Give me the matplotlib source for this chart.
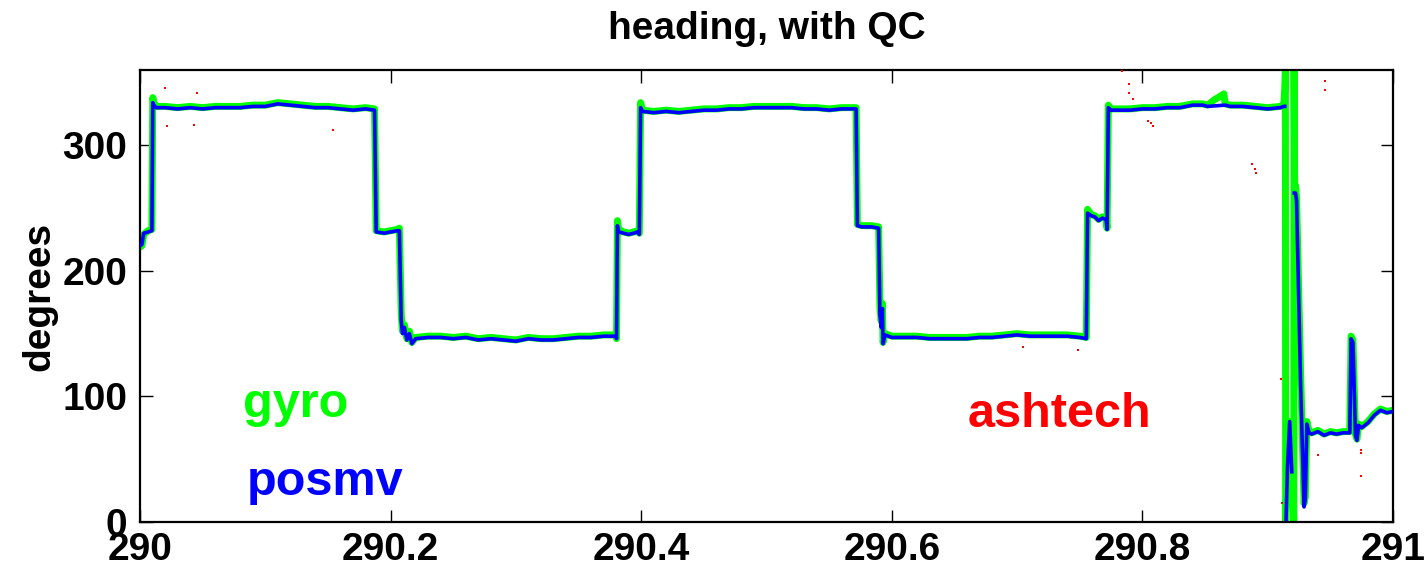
import numpy as np
import matplotlib
matplotlib.use("Agg")
import matplotlib.pyplot as plt

plt.rcParams['font.family'] = ['Liberation Sans', 'DejaVu Sans']
plt.rcParams['font.weight'] = 'bold'

# gyro heading (yearday, degrees) - wraps 360 -> 0 near 290.915
gyro_t = [290.000, 290.0015, 290.003, 290.0065, 290.0095, 290.0102, 290.011, 290.013,
          290.02, 290.03, 290.04, 290.05, 290.06, 290.07, 290.08, 290.09, 290.10, 290.11,
          290.12, 290.13, 290.14, 290.15, 290.16, 290.17, 290.18, 290.1872,
          290.1885, 290.195, 290.200, 290.2055, 290.2070, 290.2085, 290.2095, 290.211,
          290.213, 290.215, 290.217, 290.220,
          290.23, 290.24, 290.25, 290.26, 290.27, 290.28, 290.29, 290.30, 290.31, 290.32,
          290.33, 290.34, 290.35, 290.36, 290.37, 290.38, 290.3803,
          290.3810, 290.382, 290.386, 290.390, 290.394, 290.397, 290.3985, 290.3995, 290.401,
          290.41, 290.42, 290.43, 290.44, 290.45, 290.46, 290.47, 290.48, 290.49, 290.50,
          290.51, 290.52, 290.53, 290.54, 290.55, 290.56, 290.5715,
          290.5725, 290.576, 290.580, 290.584, 290.5895, 290.5905, 290.5915, 290.5925,
          290.593, 290.5945, 290.600,
          290.61, 290.62, 290.63, 290.64, 290.65, 290.66, 290.67, 290.68, 290.69, 290.70,
          290.71, 290.72, 290.73, 290.74, 290.75, 290.7552,
          290.7562, 290.759, 290.762, 290.765, 290.768, 290.771, 290.7718, 290.7728, 290.775,
          290.78, 290.79, 290.80, 290.81, 290.82, 290.83, 290.84, 290.848, 290.852, 290.857,
          290.862, 290.865, 290.866, 290.87, 290.88, 290.89, 290.90, 290.91, 290.9128,
          290.9136, 290.9141, 290.9143, 290.9158, 290.9175, 290.9194, 290.9208, 290.9210,
          290.9215, 290.9222, 290.9230, 290.9262, 290.9290, 290.9300, 290.9312, 290.9330,
          290.935, 290.940, 290.945, 290.950, 290.955, 290.960, 290.9655, 290.9665, 290.9680,
          290.9700, 290.9712, 290.9725, 290.975, 290.980, 290.985, 290.990, 290.995, 291.000]
gyro_hdg = [219, 220, 229, 232, 233, 338, 334, 331,
            331, 330, 331, 330, 331, 331, 331, 332, 332, 334,
            333, 332, 331, 331, 330, 329, 330, 329,
            232, 231, 232, 233, 234, 165, 152, 157,
            146, 152, 143, 147,
            148, 148, 147, 148, 146, 147, 146, 145, 147, 146,
            146, 147, 148, 148, 149, 149, 146,
            240, 233, 231, 230, 231, 232, 230, 334, 328,
            327, 328, 327, 328, 329, 329, 330, 330, 331, 331,
            331, 331, 330, 330, 329, 330, 330,
            237, 236, 236, 236, 235, 172, 160, 174,
            143, 150, 148,
            148, 148, 147, 147, 147, 147, 148, 148, 149, 150,
            149, 149, 149, 149, 148, 147,
            249, 245, 244, 241, 243, 242, 234, 332, 329,
            329, 329, 330, 330, 331, 331, 333, 333, 332, 336,
            339, 341, 333, 332, 332, 331, 330, 331, 332,
            345, 360, 0, 45, 80, 40, 0, 360,
            265, 268, 258, 120, 15, 20, 80, 72,
            71, 73, 70, 72, 71, 72, 72, 148, 145,
            70, 66, 78, 76, 80, 86, 90, 88, 89]

# posmv heading: follows gyro, no wrap lines (gaps), deeper dip at 290.929
posmv_t = [290.000, 290.0015, 290.003, 290.0065, 290.0095, 290.0102, 290.011, 290.013,
           290.02, 290.03, 290.04, 290.05, 290.06, 290.07, 290.08, 290.09, 290.10, 290.11,
           290.12, 290.13, 290.14, 290.15, 290.16, 290.17, 290.18, 290.1872,
           290.1885, 290.195, 290.200, 290.2055, 290.2070, 290.2085, 290.2095, 290.211,
           290.213, 290.215, 290.217, 290.220,
           290.23, 290.24, 290.25, 290.26, 290.27, 290.28, 290.29, 290.30, 290.31, 290.32,
           290.33, 290.34, 290.35, 290.36, 290.37, 290.38, 290.3803,
           290.3810, 290.382, 290.386, 290.390, 290.394, 290.397, 290.3985, 290.3995, 290.401,
           290.41, 290.42, 290.43, 290.44, 290.45, 290.46, 290.47, 290.48, 290.49, 290.50,
           290.51, 290.52, 290.53, 290.54, 290.55, 290.56, 290.5715,
           290.5725, 290.576, 290.580, 290.584, 290.5895, 290.5905, 290.5915, 290.5925,
           290.593, 290.5945, 290.600,
           290.61, 290.62, 290.63, 290.64, 290.65, 290.66, 290.67, 290.68, 290.69, 290.70,
           290.71, 290.72, 290.73, 290.74, 290.75, 290.7552,
           290.7562, 290.759, 290.762, 290.765, 290.768, 290.771, 290.7718, 290.7728, 290.775,
           290.78, 290.79, 290.80, 290.81, 290.82, 290.83, 290.84, 290.848, 290.852,
           290.866, 290.87, 290.88, 290.89, 290.90, 290.91, 290.9128, 290.9136,
           290.9140, 290.9146, 290.9158, 290.9175, 290.9192, 290.9200,
           290.9212, 290.9222, 290.9230, 290.9262, 290.9290, 290.9300, 290.9312, 290.9330,
           290.935, 290.940, 290.945, 290.950, 290.955, 290.960, 290.9655, 290.9665, 290.9680,
           290.9700, 290.9712, 290.9725, 290.975, 290.980, 290.985, 290.990, 290.995, 291.000]
posmv_hdg = [220, 221, 230, 231, 232, 334, 332, 330,
             330, 329, 330, 329, 330, 330, 330, 331, 331, 333,
             332, 331, 330, 330, 329, 328, 329, 328,
             231, 230, 231, 232, 232, 160, 150, 155,
             145, 150, 142, 146,
             147, 147, 146, 147, 145, 146, 145, 144, 146, 145,
             145, 146, 147, 147, 148, 148, 146,
             236, 231, 230, 229, 230, 231, 229, 330, 327,
             326, 327, 326, 327, 328, 328, 329, 329, 330, 330,
             330, 330, 329, 329, 328, 329, 329,
             236, 235, 235, 235, 234, 165, 155, 170,
             142, 149, 147,
             147, 147, 146, 146, 146, 146, 147, 147, 148, 149,
             148, 148, 148, 148, 147, 146,
             246, 244, 243, 240, 242, 241, 233, 330, 328,
             328, 328, 329, 329, 330, 330, 332, 332, 331,
             332, 331, 331, 330, 329, 330, 331, 331,
             np.nan, 2, 45, 80, 40, np.nan,
             262, 262, 256, 110, 12, 18, 78, 71,
             70, 72, 69, 71, 70, 71, 71, 146, 143,
             69, 65, 77, 75, 79, 85, 89, 87, 88]

# ashtech heading after QC: only scattered points survive
ash_t = [290.0200, 290.0452, 290.0213, 290.0431, 290.1538, 290.7835, 290.7896, 290.7890,
         290.7923, 290.8047, 290.8087, 290.8070, 290.8872, 290.8910, 290.8895, 290.9457,
         290.9457, 290.7489, 290.9104, 290.9112, 290.9404, 290.9745, 290.9745, 290.9745,
         290.7050]
ash_hdg = [346, 342, 315, 316, 312, 359, 349, 342,
           337, 319, 315, 318, 285, 278, 281, 351,
           344, 137, 114, 15, 53, 57, 55, 37,
           139]

xticks = [290, 290.2, 290.4, 290.6, 290.8, 291]
xticklabels = ['290', '290.2', '290.4', '290.6', '290.8', '291']
yticks = [0, 100, 200, 300]

fig = plt.figure(figsize=(14.27, 5.74), dpi=100)
ax = fig.add_axes([0.0981, 0.0906, 0.8781, 0.7875])

ax.plot(gyro_t, gyro_hdg, color='#00ff00', linewidth=5.0, solid_joinstyle='round',
        solid_capstyle='round', zorder=2)
ax.plot(posmv_t, posmv_hdg, color='#0000ff', linewidth=2.6, zorder=3)
ax.plot(ash_t, ash_hdg, linestyle='none', marker='s', markersize=1.6,
        color='#ff0000', markeredgewidth=0, zorder=4)

ax.set_xlim(290, 291)
ax.set_ylim(0, 360)
ax.set_xticks(xticks)
ax.set_xticklabels(xticklabels)
ax.set_yticks(yticks)
ax.tick_params(direction='in', length=9, width=1, top=True, right=True,
               labelsize=28)
ax.tick_params(axis='x', pad=7)
ax.tick_params(axis='y', pad=9)
for s in ax.spines.values():
    s.set_linewidth(1.6)

ax.set_title('heading, with QC', fontsize=28, fontweight='bold', pad=22)
ax.set_ylabel('degrees', fontsize=28, fontweight='bold', labelpad=4)

ax.text(290.0822, 83.8, 'gyro', color='#00ff00', fontsize=35, fontweight='bold')
ax.text(290.0854, 21.5, 'posmv', color='#0000ff', fontsize=35, fontweight='bold')
ax.text(290.6608, 75.8, 'ashtech', color='#ff0000', fontsize=35, fontweight='bold')

fig.savefig('out.png', dpi=100)
